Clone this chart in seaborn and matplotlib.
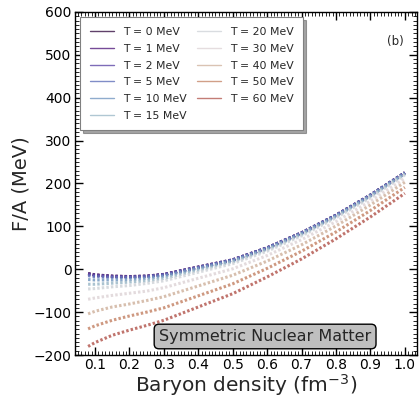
import matplotlib
matplotlib.use("Agg")
import matplotlib.pyplot as plt
from matplotlib.lines import Line2D
from matplotlib.ticker import MultipleLocator
import numpy as np
import pandas as pd
import seaborn as sns


DENSITY = [0.08, 0.1, 0.15, 0.2, 0.25, 0.3, 0.4, 0.5, 0.6, 0.7, 0.8, 0.9, 1.0]

TEMPS = [0, 1, 2, 5, 10, 15, 20, 30, 40, 50, 60]

FA_T0 = [-10, -13, -16, -17, -16, -12, 5, 22, 50, 85, 126, 173, 225]
FA_T1 = [-10.5, -13.4, -16.3, -17.2, -16.1, -12.1, 5.0, 22.0, 50, 85, 126, 173, 225]
FA_T2 = [-11.5, -14.2, -16.8, -17.6, -16.4, -12.3, 4.8, 21.9, 49.9, 84.9, 125.9, 172.9, 224.9]
FA_T5 = [-15, -17.3, -19, -19.2, -17.7, -13.3, 4.1, 21.4, 49.5, 84.6, 125.6, 172.6, 224.6]
FA_T10 = [-24, -25, -25, -24, -21.5, -16.5, 1.8, 19.6, 48, 83.2, 124.4, 171.5, 223.6]
FA_T15 = [-35, -35, -32.5, -30, -27, -21.3, -2, 17, 45.6, 81, 122.4, 169.7, 221.9]
FA_T20 = [-46, -45, -41, -38, -33, -27, -7, 13, 42, 78, 120, 167, 220]
FA_T30 = [-70, -67, -61, -56, -51, -43, -21, 1, 32, 69, 111, 159, 212]
FA_T40 = [-104, -98, -88, -81, -73, -64, -39, -14, 19, 57, 101, 150, 203]
FA_T50 = [-139, -132, -119, -109, -100, -90, -62, -34, 2, 42, 87, 137, 191]
FA_T60 = [-180, -171, -154, -142, -131, -119, -88, -57, -18, 24, 71, 122, 177]

SERIES = [FA_T0, FA_T1, FA_T2, FA_T5, FA_T10, FA_T15, FA_T20,
          FA_T30, FA_T40, FA_T50, FA_T60]


def build_frame() -> pd.DataFrame:
    rows = []
    for temp, values in zip(TEMPS, SERIES):
        label = f"T = {temp} MeV"
        for n, fa in zip(DENSITY, values):
            rows.append({"density": n, "fa": fa, "label": label})
    return pd.DataFrame(rows)


def main() -> None:
    sns.set_theme(style="ticks")
    plt.rcParams["font.family"] = ["DejaVu Sans"]

    data = build_frame()
    labels = [f"T = {t} MeV" for t in TEMPS]
    cmap = plt.get_cmap("twilight_shifted")
    colors = [cmap(v) for v in np.linspace(0.03, 0.74, len(TEMPS))]

    fig = plt.figure(figsize=(4.19, 3.98), dpi=100)
    ax = fig.add_axes([0.179, 0.108, 0.816, 0.862])

    sns.lineplot(data=data, x="density", y="fa", hue="label", hue_order=labels,
                 palette=colors, ax=ax, legend=False, linewidth=2.2, alpha=0.85,
                 linestyle=(0, (0.8, 0.7)))

    handles = [Line2D([0], [0], color=c, lw=1.0, alpha=0.8) for c in colors]
    leg = ax.legend(handles, labels, loc="upper left", ncol=2, fontsize=7.8,
                    frameon=True, fancybox=False, shadow=True, edgecolor="0.5",
                    handlelength=2.2, handletextpad=0.8, columnspacing=1.0,
                    labelspacing=0.62, borderpad=0.9, bbox_to_anchor=(0.0, 1.0))
    leg.get_frame().set_linewidth(0.8)

    ax.text(0.936, 0.913, "(b)", transform=ax.transAxes, fontsize=8.5,
            ha="center", va="center")
    ax.text(0.556, 0.054, "Symmetric Nuclear Matter", transform=ax.transAxes,
            fontsize=11.5, ha="center", va="center",
            bbox=dict(boxstyle="round,pad=0.3", facecolor="#bfbfbf", edgecolor="black"))

    ax.set_xlim(0.042, 1.035)
    ax.set_ylim(-200, 600)
    ax.xaxis.set_major_locator(MultipleLocator(0.1))
    ax.xaxis.set_minor_locator(MultipleLocator(0.01))
    ax.yaxis.set_major_locator(MultipleLocator(100))
    ax.yaxis.set_minor_locator(MultipleLocator(10))
    ax.tick_params(which="both", direction="in", top=True, right=True,
                   labelsize=10, colors="black", pad=2.5)
    ax.tick_params(which="major", length=6, width=1)
    ax.tick_params(which="minor", length=3, width=0.6)
    for spine in ax.spines.values():
        spine.set_color("black")
        spine.set_linewidth(1.0)

    ax.set_xlabel("Baryon density (fm$^{-3}$)", fontsize=14.5, labelpad=0)
    ax.set_ylabel("F/A (MeV)", fontsize=14, labelpad=2)

    fig.savefig("out.png", dpi=100)
    plt.close(fig)


if __name__ == "__main__":
    main()
